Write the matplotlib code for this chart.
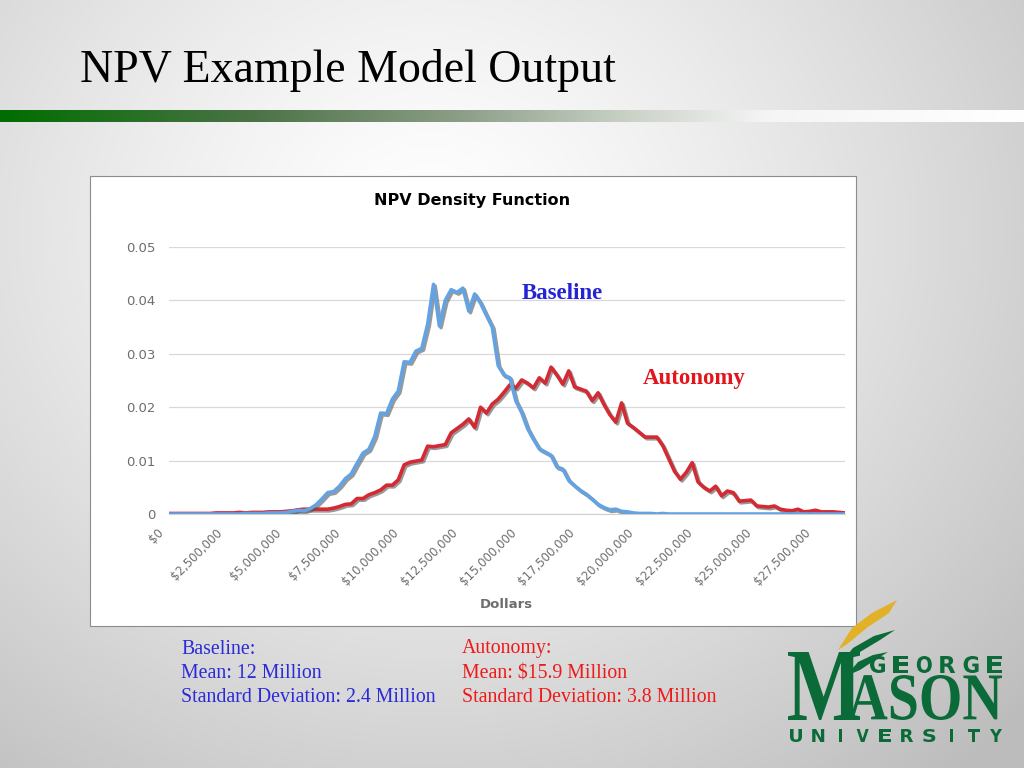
import numpy as np
import matplotlib
matplotlib.use("Agg")
import matplotlib.pyplot as plt
import matplotlib.patheffects as pe
import matplotlib.transforms as mtransforms
from matplotlib.patches import Rectangle, Polygon, PathPatch
from matplotlib.ticker import FuncFormatter, FixedLocator, NullFormatter
from matplotlib.textpath import TextPath
from matplotlib.font_manager import FontProperties

# ---------------- data ----------------
bin_width = 250000  # dollars per category bin
baseline = [0, 0, 0, 0, 0, 0, 0, 0, 0, 0,
            0, 0, 0, 0.0001, 0.0001, 0.0001, 0.0001, 0.0002, 0.0002, 0.0002,
            0.0003, 0.0005, 0.0007, 0.0006, 0.0010, 0.0017, 0.0028, 0.0040, 0.0042, 0.0052,
            0.0066, 0.0075, 0.0095, 0.0114, 0.0121, 0.0145, 0.0189, 0.0188, 0.0215, 0.0230,
            0.0285, 0.0284, 0.0305, 0.0310, 0.0355, 0.0430, 0.0352, 0.0400, 0.0420, 0.0415,
            0.0423, 0.0380, 0.0412, 0.0395, 0.0372, 0.0350, 0.0278, 0.0260, 0.0255, 0.0212,
            0.0190, 0.0160, 0.0140, 0.0122, 0.0116, 0.0110, 0.0088, 0.0084, 0.0063, 0.0053,
            0.0044, 0.0037, 0.0028, 0.0018, 0.0012, 0.0008, 0.0009, 0.0005, 0.0004, 0.0002,
            0.0001, 0.0001, 0.0001, 0, 0.0001, 0, 0, 0, 0, 0,
            0, 0, 0, 0, 0, 0, 0, 0, 0, 0,
            0, 0, 0, 0, 0, 0, 0, 0, 0, 0,
            0, 0, 0, 0, 0, 0]
autonomy = [0.0001, 0.0001, 0.0001, 0.0001, 0.0001, 0.0001, 0.0001, 0.0001, 0.0002, 0.0002,
            0.0002, 0.0002, 0.0003, 0.0002, 0.0003, 0.0003, 0.0003, 0.0004, 0.0004, 0.0004,
            0.0005, 0.0006, 0.0008, 0.0009, 0.0009, 0.0009, 0.0009, 0.0009, 0.0011, 0.0014,
            0.0018, 0.0019, 0.0029, 0.0029, 0.0036, 0.0040, 0.0045, 0.0054, 0.0054, 0.0064,
            0.0092, 0.0097, 0.0099, 0.0101, 0.0127, 0.0126, 0.0128, 0.0130, 0.0152, 0.0160,
            0.0168, 0.0178, 0.0162, 0.0200, 0.0189, 0.0206, 0.0215, 0.0228, 0.0242, 0.0236,
            0.0251, 0.0245, 0.0236, 0.0255, 0.0245, 0.0275, 0.0260, 0.0243, 0.0268, 0.0238,
            0.0234, 0.0230, 0.0212, 0.0227, 0.0205, 0.0186, 0.0172, 0.0208, 0.0170, 0.0162,
            0.0153, 0.0144, 0.0144, 0.0144, 0.0128, 0.0104, 0.0080, 0.0065, 0.0078, 0.0096,
            0.0060, 0.0050, 0.0043, 0.0052, 0.0034, 0.0043, 0.0040, 0.0024, 0.0025, 0.0026,
            0.0015, 0.0014, 0.0013, 0.0015, 0.0009, 0.0007, 0.0006, 0.0009, 0.0004, 0.0005,
            0.0007, 0.0004, 0.0004, 0.0004, 0.0003, 0.0002]
tick_values = [0, 2500000, 5000000, 7500000, 10000000, 12500000, 15000000,
               17500000, 20000000, 22500000, 25000000, 27500000]
y_ticks = [0, 0.01, 0.02, 0.03, 0.04, 0.05]
baseline_stats = ["Baseline:", "Mean: 12 Million", "Standard Deviation: 2.4 Million"]
autonomy_stats = ["Autonomy:", "Mean: $15.9 Million", "Standard Deviation: 3.8 Million"]

W, H = 1024, 768
fig = plt.figure(figsize=(W / 100, H / 100), dpi=100)

def fx(px):
    return px / W

def fy(py):
    return 1 - py / H

# ---------------- slide background ----------------
bg = fig.add_axes([0, 0, 1, 1], zorder=-10)
bg.set_axis_off()
yy, xx = np.mgrid[0:H, 0:W]
d = np.sqrt(((xx - 430) / 1.0) ** 2 + ((yy - 230) / 0.9) ** 2)
g = np.clip(1.0 - 0.24 * (d / 750.0) ** 1.3, 0.74, 1.0)
img = np.dstack([g, g, g])
bg.imshow(img, extent=[0, W, H, 0], aspect="auto")
# green-to-grey gradient rule
t = np.linspace(0, 1, 800)
stops_t = [0.0, 0.25, 0.45, 0.62, 0.75, 1.0]
stops_c = np.array([[0.0, 0.43, 0.0], [0.30, 0.45, 0.28], [0.55, 0.62, 0.53],
                    [0.80, 0.83, 0.79], [0.96, 0.96, 0.96], [1.0, 1.0, 1.0]])
col = np.stack([np.interp(t, stops_t, stops_c[:, c]) for c in range(3)], axis=1)
bar = np.repeat(col[None, :, :], 2, axis=0)
bg.imshow(bar, extent=[0, W, 122, 110], aspect="auto")
bg.set_xlim(0, W)
bg.set_ylim(H, 0)

fig.text(fx(80), fy(70), "NPV Example Model Output", family="Liberation Serif",
         fontsize=33, color="black", va="center", ha="left")

# chart box
fig.patches.append(Rectangle((fx(90), fy(626)), fx(856) - fx(90), fy(176) - fy(626),
                             transform=fig.transFigure, facecolor="white",
                             edgecolor="#8c8c8c", linewidth=0.8, zorder=-5))

# ---------------- chart ----------------
ax = fig.add_axes([fx(169), fy(514), fx(845) - fx(169), fy(247) - fy(514)])
ax.set_facecolor("none")
x = np.arange(len(baseline)) * bin_width
xa = np.arange(len(autonomy)) * bin_width
shadow = [pe.SimpleLineShadow(offset=(1.2, -1.2), shadow_color="#555555", alpha=0.6), pe.Normal()]
ax.plot(xa, autonomy, color="#d42a33", lw=2.6, path_effects=shadow, zorder=3)
ax.plot(x, baseline, color="#63a3e3", lw=2.6, path_effects=shadow, zorder=4)

ax.set_xlim(0, 115 * bin_width)
ax.set_ylim(0, 0.05)
ax.set_yticks(y_ticks)
ax.yaxis.set_major_formatter(FuncFormatter(lambda v, p: "0" if v == 0 else f"{v:.2f}"))
ax.xaxis.set_major_locator(FixedLocator(tick_values))
ax.xaxis.set_major_formatter(NullFormatter())
ax.tick_params(axis="x", length=0)
ax.tick_params(axis="y", length=0, pad=10, labelsize=9.5, labelcolor="#6e6e6e")
ax.grid(axis="y", color="#d9d9d9", lw=0.9)
ax.set_axisbelow(True)
for s in ["top", "right", "left"]:
    ax.spines[s].set_visible(False)
ax.spines["bottom"].set_color("#d0d0d0")
ax.spines["bottom"].set_zorder(1)

offset = mtransforms.ScaledTranslation(-12 / 100, -12 / 100, fig.dpi_scale_trans)
for v in tick_values:
    ax.text(v, 0, f"${v:,}", transform=ax.get_xaxis_transform() + offset,
            rotation=45, ha="right", va="top", rotation_mode="anchor",
            fontsize=8.5, color="#6e6e6e", family="DejaVu Sans")

fig.text(fx(472), fy(201), "NPV Density Function", family="DejaVu Sans", fontsize=11.5,
         weight="bold", ha="center", va="center", color="black")
fig.text(fx(506), fy(604), "Dollars", family="DejaVu Sans", fontsize=9.5,
         weight="bold", ha="center", va="center", color="#6e6e6e")
fig.text(fx(522), fy(293), "Baseline", family="Liberation Serif", fontsize=16.5,
         weight="bold", color="#2424d4", ha="left", va="center")
fig.text(fx(643), fy(379), "Autonomy", family="Liberation Serif", fontsize=16.5,
         weight="bold", color="#e3141c", ha="left", va="center")

# ---------------- stats text ----------------
for k, s in enumerate(baseline_stats):
    fig.text(fx(181), fy(649 + 24.5 * k), s, family="Liberation Serif", fontsize=14.3,
             color="#2a2ad8", ha="left", va="center")
for k, s in enumerate(autonomy_stats):
    fig.text(fx(462), fy(649 + 24.5 * k), s, family="Liberation Serif", fontsize=14.3,
             color="#ee1a1a", ha="left", va="center")

# ---------------- logo ----------------
green = "#0b6b38"
gold = "#e2b128"
lg = fig.add_axes([0, 0, 1, 1], zorder=5)
lg.set_axis_off()
lg.set_xlim(0, W)
lg.set_ylim(H, 0)

serif_b = FontProperties(family="Liberation Serif", weight="bold")
sans_b = FontProperties(family="DejaVu Sans", weight="bold")

def fit_text(s, x0, x1, ytop, ybot, prop, color):
    tp = TextPath((0, 0), s, size=100, prop=prop)
    ext = tp.get_extents()
    sx = (x1 - x0) / ext.width
    sy = (ybot - ytop) / ext.height
    tr = mtransforms.Affine2D().translate(-ext.x0, -ext.y0).scale(sx, -sy).translate(x0, ybot)
    lg.add_patch(PathPatch(tr.transform_path(tp), facecolor=color, edgecolor="none"))

def spaced(s, x0, x1, ytop, ybot, letter_w, prop, color):
    n = len(s)
    step = (x1 - x0 - letter_w) / (n - 1)
    for k, ch in enumerate(s):
        cx = x0 + k * step
        w = letter_w * (0.3 if ch == "I" else 1.0)
        cx0 = cx + (letter_w - w) / 2
        fit_text(ch, cx0, cx0 + w, ytop, ybot, prop, color)

lg.add_patch(Polygon([(838, 650), (852, 628), (872, 613), (897, 600), (889, 613),
                      (868, 627), (846, 645)], closed=True, facecolor=gold, edgecolor="none"))
lg.add_patch(Polygon([(840, 664), (853, 648), (874, 636), (895, 630), (880, 640),
                      (860, 652), (847, 662)], closed=True, facecolor=green, edgecolor="none"))
lg.add_patch(Polygon([(846, 676), (858, 662), (873, 655), (888, 652), (875, 660),
                      (860, 670)], closed=True, facecolor=green, edgecolor="none"))
fit_text("M", 788, 860, 652, 720, serif_b, green)
fit_text("ASON", 848, 1002, 675, 720, serif_b, green)
spaced("GEORGE", 870, 1002, 656, 673, 15, sans_b, green)
spaced("UNIVERSITY", 790, 1002, 729, 742, 12, sans_b, green)

fig.savefig("out.png", dpi=100)
